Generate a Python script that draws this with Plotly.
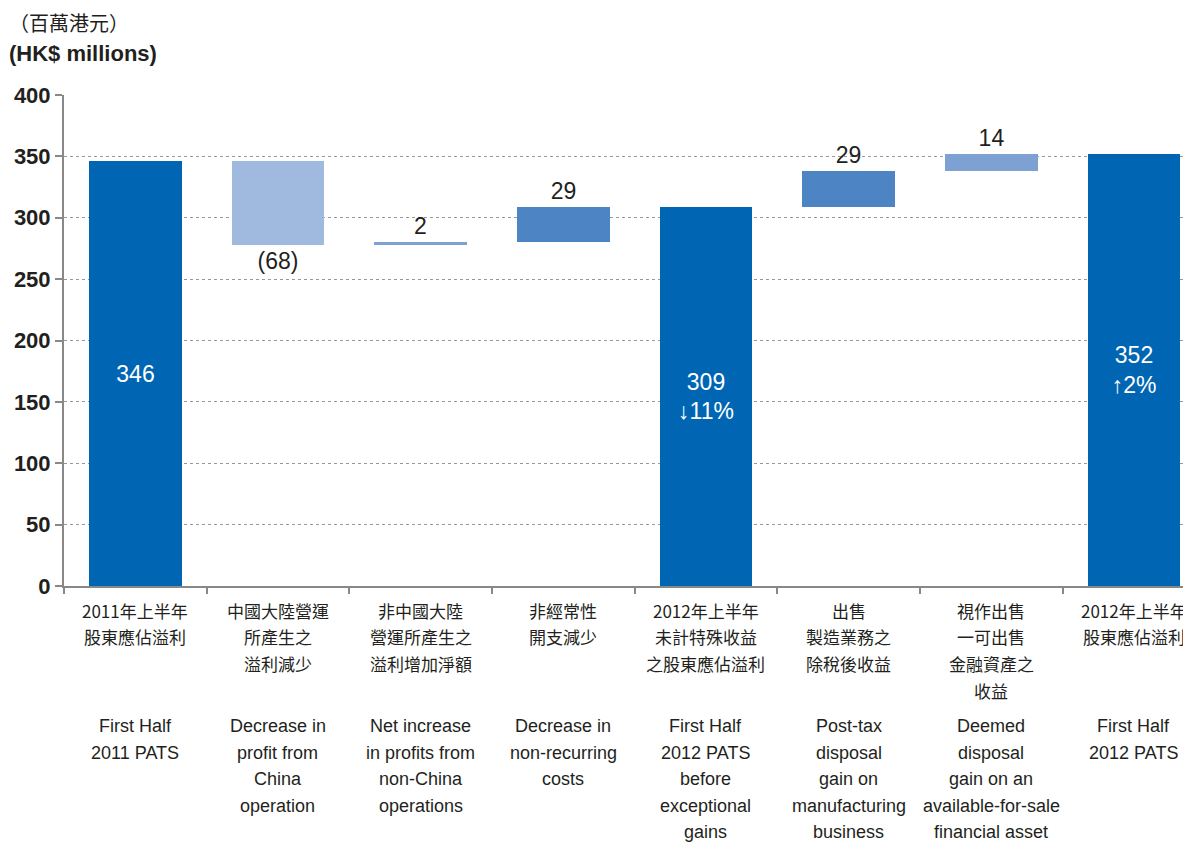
import plotly.graph_objects as go

categories = ["2011 PATS", "China", "Non-China", "Non-recurring", "2012 before", "Manufacturing", "AFS asset", "2012 PATS"]
zh_labels = [
    "2011年上半年\n股東應佔溢利",
    "中國大陸營運\n所產生之\n溢利減少",
    "非中國大陸\n營運所產生之\n溢利增加淨額",
    "非經常性\n開支減少",
    "2012年上半年\n未計特殊收益\n之股東應佔溢利",
    "出售\n製造業務之\n除稅後收益",
    "視作出售\n一可出售\n金融資產之\n收益",
    "2012年上半年\n股東應佔溢利",
]
en_labels = [
    "First Half\n2011 PATS",
    "Decrease in\nprofit from\nChina\noperation",
    "Net increase\nin profits from\nnon-China\noperations",
    "Decrease in\nnon-recurring\ncosts",
    "First Half\n2012 PATS\nbefore\nexceptional\ngains",
    "Post-tax\ndisposal\ngain on\nmanufacturing\nbusiness",
    "Deemed\ndisposal\ngain on an\navailable-for-sale\nfinancial asset",
    "First Half\n2012 PATS",
]
values = [346, -68, 2, 29, 309, 29, 14, 352]
kinds = ["total", "relative", "relative", "relative", "total", "relative", "relative", "total"]
bar_text = ["346", "(68)", "2", "29", "309<br>↓11%", "29", "14", "352<br>↑2%"]
colors = ["#0066b3", "#a0b9df", "#7ea1d4", "#4d84c4", "#0066b3", "#4d84c4", "#7ea1d4", "#0066b3"]

bases = []
running = 0
for v, k in zip(values, kinds):
    if k == "total":
        bases.append(0)
        running = v
    else:
        bases.append(running)
        running += v

positions = ["inside" if k == "total" else "outside" for k in kinds]

fig = go.Figure()
fig.add_trace(go.Bar(
    x=categories, y=values, base=bases,
    marker=dict(color=colors, line=dict(width=0)),
    width=0.65,
    text=bar_text, textposition=positions, textangle=0,
    insidetextanchor="middle", constraintext="none",
    insidetextfont=dict(color="white", size=23, family="Liberation Sans, Arial"),
    outsidetextfont=dict(color="#231f20", size=23, family="Liberation Sans, Arial"),
    cliponaxis=False, hoverinfo="skip",
))

annotations = []
zh_font = dict(family="Noto Sans CJK TC, Noto Sans CJK SC", size=17, color="#231f20")
en_font = dict(family="Liberation Sans Narrow, Arial Narrow, Liberation Sans", size=18, color="#231f20")
plot_bottom = 586
for i, cat in enumerate(categories):
    for j, line in enumerate(zh_labels[i].split("\n")):
        annotations.append(dict(x=cat, xref="x", y=0, yref="paper", text=line, showarrow=False,
                                xanchor="center", yanchor="middle",
                                yshift=-(610 + 26.7 * j - plot_bottom), font=zh_font))
    for j, line in enumerate(en_labels[i].split("\n")):
        annotations.append(dict(x=cat, xref="x", y=0, yref="paper", text=line, showarrow=False,
                                xanchor="center", yanchor="middle",
                                yshift=-(726 + 26.5 * j - plot_bottom), font=en_font))

annotations.append(dict(x=0, xref="paper", y=1, yref="paper", text="（百萬港元）", showarrow=False,
                        xanchor="left", yanchor="middle", xshift=-57, yshift=73,
                        font=dict(family="Noto Sans CJK TC", size=20, color="#231f20")))
annotations.append(dict(x=0, xref="paper", y=1, yref="paper", text="<b>(HK$ millions)</b>", showarrow=False,
                        xanchor="left", yanchor="middle", xshift=-57, yshift=42,
                        font=dict(family="Liberation Sans, Arial", size=22, color="#231f20")))

fig.update_layout(
    width=1183, height=834,
    margin=dict(l=56, r=0, t=87, b=256),
    plot_bgcolor="white", paper_bgcolor="white",
    showlegend=False,
    annotations=annotations,
    bargap=0,
)
fig.update_xaxes(
    type="category", categoryorder="array", categoryarray=categories,
    range=[-0.5, 7.4], showticklabels=False,
    tickson="boundaries", ticks="outside", ticklen=6, tickcolor="#888888", tickwidth=2,
    showline=True, linecolor="#888888", linewidth=2, showgrid=False, zeroline=False,
)
fig.update_yaxes(
    range=[0, 400], tickvals=[0, 50, 100, 150, 200, 250, 300, 350, 400],
    ticks="outside", ticklen=7, tickcolor="#888888", tickwidth=2,
    tickfont=dict(family="Liberation Sans, Arial", size=22, color="#231f20", weight="bold"),
    showline=True, linecolor="#888888", linewidth=2,
    showgrid=True, gridcolor="#999999", griddash="dot", gridwidth=1, zeroline=False,
)

fig.write_html("out.html")
